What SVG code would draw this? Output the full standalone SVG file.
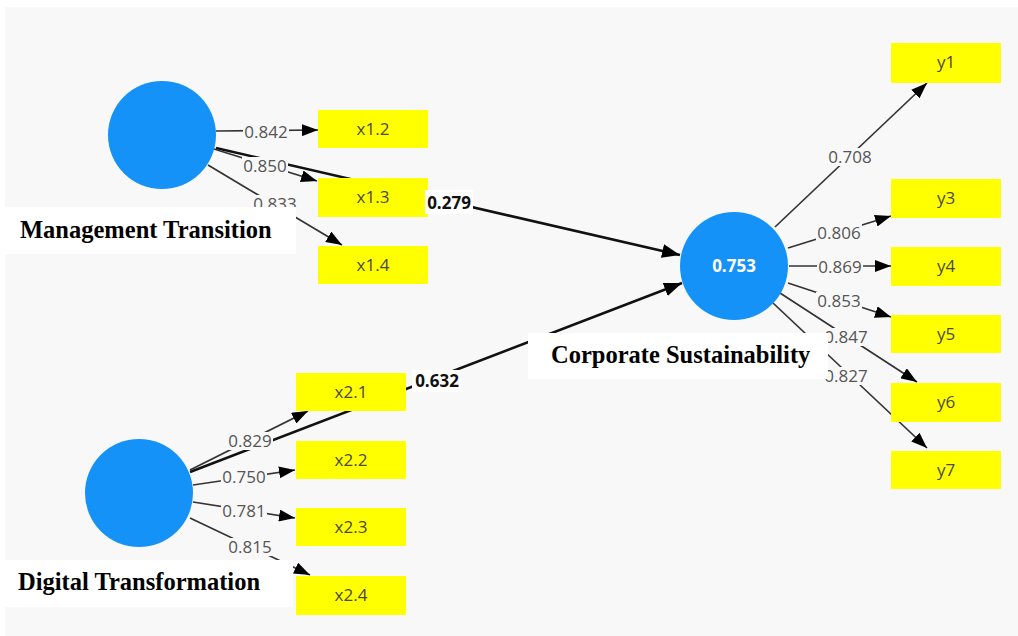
<svg xmlns="http://www.w3.org/2000/svg" width="1018" height="636" viewBox="0 0 1018 636">
  <style>
    .bg { fill: #f8f8f8; }
    .lv { fill: #1592f7; }
    .ind { fill: #ffff00; }
    .ind-t { font-family: "Open Sans", "Noto Sans", sans-serif; font-size: 17px; fill: #4a4a3a; text-anchor: middle; }
    .ml { stroke: #333; stroke-width: 1.7; fill: none; marker-end: url(#ah); }
    .sl { stroke: #111; stroke-width: 2.6; fill: none; marker-end: url(#ahb); }
    .mbg { fill: #f8f8f8; }
    .sbg { fill: #ffffff; }
    .mlab { font-family: "Open Sans", "Noto Sans", sans-serif; font-size: 17px; fill: #555; text-anchor: middle; }
    .slab { font-family: "Open Sans", "Noto Sans", sans-serif; font-size: 17px; font-weight: bold; fill: #111; text-anchor: middle; }
    .r2 { font-family: "Open Sans", "Noto Sans", sans-serif; font-size: 17px; font-weight: bold; fill: #ffffff; text-anchor: middle; }
    .namebox { fill: #ffffff; }
    .name { font-family: "Liberation Serif", "Times New Roman", serif; font-size: 24.5px; font-weight: bold; fill: #000; }
  </style>
  <defs>
    <marker id="ah" viewBox="0 0 16 12" refX="16" refY="6" markerWidth="16" markerHeight="12" markerUnits="userSpaceOnUse" orient="auto">
      <path d="M0,0 L16,6 L0,12 z" fill="#000"/>
    </marker>
    <marker id="ahb" viewBox="0 0 18 14" refX="18" refY="7" markerWidth="18" markerHeight="14" markerUnits="userSpaceOnUse" orient="auto">
      <path d="M0,0 L18,7 L0,14 z" fill="#000"/>
    </marker>
  </defs>

  <rect x="0" y="0" width="1018" height="636" fill="#ffffff"/>
  <rect class="bg" x="5" y="7" width="1013" height="629"/>

  <g id="connectors">
    <!-- structural paths -->
    <line class="sl" x1="216" y1="148" x2="680" y2="255"/>
    <line class="sl" x1="190" y1="472" x2="682" y2="283"/>

    <!-- Management Transition loadings -->
    <line class="ml" x1="216" y1="131" x2="318" y2="130"/>
    <line class="ml" x1="214" y1="149" x2="317" y2="181"/>
    <line class="ml" x1="208" y1="165" x2="342" y2="245"/>
    <rect class="mbg" x="243" y="123" width="46" height="18"/>
    <rect class="mbg" x="242" y="157" width="46" height="18"/>
    <rect class="mbg" x="252" y="195" width="46" height="18"/>
    <text class="mlab" x="266" y="138">0.842</text>
    <text class="mlab" x="265" y="172">0.850</text>
    <text class="mlab" x="275" y="210">0.833</text>

    <!-- Digital Transformation loadings -->
    <line class="ml" x1="190" y1="470" x2="308" y2="411"/>
    <line class="ml" x1="193" y1="485" x2="295" y2="470"/>
    <line class="ml" x1="193" y1="502" x2="295" y2="518"/>
    <line class="ml" x1="190" y1="518" x2="310" y2="575"/>
    <rect class="mbg" x="227" y="432" width="46" height="18"/>
    <rect class="mbg" x="221" y="468" width="46" height="18"/>
    <rect class="mbg" x="221" y="502" width="46" height="18"/>
    <rect class="mbg" x="227" y="538" width="46" height="18"/>
    <text class="mlab" x="250" y="447">0.829</text>
    <text class="mlab" x="244" y="483">0.750</text>
    <text class="mlab" x="244" y="517">0.781</text>
    <text class="mlab" x="250" y="553">0.815</text>

    <!-- Corporate Sustainability loadings -->
    <line class="ml" x1="775" y1="227" x2="927" y2="83"/>
    <line class="ml" x1="788" y1="248" x2="891" y2="216"/>
    <line class="ml" x1="789" y1="266" x2="891" y2="266"/>
    <line class="ml" x1="788" y1="283" x2="891" y2="317"/>
    <line class="ml" x1="780" y1="293" x2="917" y2="382"/>
    <line class="ml" x1="773" y1="303" x2="927" y2="448"/>
    <rect class="mbg" x="827" y="148" width="46" height="18"/>
    <rect class="mbg" x="816" y="224" width="46" height="18"/>
    <rect class="mbg" x="817" y="258" width="46" height="18"/>
    <rect class="mbg" x="816" y="292" width="46" height="18"/>
    <rect class="mbg" x="823" y="328" width="46" height="18"/>
    <rect class="mbg" x="823" y="367" width="46" height="18"/>
    <text class="mlab" x="850" y="163">0.708</text>
    <text class="mlab" x="839" y="239">0.806</text>
    <text class="mlab" x="840" y="273">0.869</text>
    <text class="mlab" x="839" y="307">0.853</text>
    <text class="mlab" x="846" y="343">0.847</text>
    <text class="mlab" x="846" y="382">0.827</text>
  </g>

  <!-- Management Transition -->
  <g id="management-transition">
    <circle class="lv" cx="162" cy="135" r="54"/>
  </g>
  <g id="x1-2"><rect class="ind" x="318" y="110" width="110" height="38"/><text class="ind-t" x="373" y="135">x1.2</text></g>
  <g id="x1-3"><rect class="ind" x="318" y="178" width="110" height="39"/><text class="ind-t" x="373" y="203">x1.3</text></g>
  <g id="x1-4"><rect class="ind" x="318" y="246" width="110" height="38"/><text class="ind-t" x="373" y="271">x1.4</text></g>

  <!-- Digital Transformation -->
  <g id="digital-transformation">
    <circle class="lv" cx="139" cy="493" r="54"/>
  </g>
  <g id="x2-1"><rect class="ind" x="296" y="373" width="110" height="38"/><text class="ind-t" x="351" y="398">x2.1</text></g>
  <g id="x2-2"><rect class="ind" x="296" y="441" width="110" height="38"/><text class="ind-t" x="351" y="466">x2.2</text></g>
  <g id="x2-3"><rect class="ind" x="296" y="508" width="110" height="38"/><text class="ind-t" x="351" y="533">x2.3</text></g>
  <g id="x2-4"><rect class="ind" x="296" y="576" width="110" height="39"/><text class="ind-t" x="351" y="601">x2.4</text></g>

  <!-- Corporate Sustainability -->
  <g id="corporate-sustainability">
    <circle class="lv" cx="734" cy="266" r="54"/>
    <text class="r2" x="734" y="272">0.753</text>
  </g>
  <g id="y1"><rect class="ind" x="891" y="43" width="110" height="40"/><text class="ind-t" x="946" y="68">y1</text></g>
  <g id="y3"><rect class="ind" x="891" y="179" width="110" height="39"/><text class="ind-t" x="946" y="204">y3</text></g>
  <g id="y4"><rect class="ind" x="891" y="247" width="110" height="39"/><text class="ind-t" x="946" y="272">y4</text></g>
  <g id="y5"><rect class="ind" x="891" y="315" width="110" height="38"/><text class="ind-t" x="946" y="340">y5</text></g>
  <g id="y6"><rect class="ind" x="891" y="383" width="110" height="39"/><text class="ind-t" x="946" y="408">y6</text></g>
  <g id="y7"><rect class="ind" x="891" y="451" width="110" height="38"/><text class="ind-t" x="946" y="476">y7</text></g>

  <!-- path coefficients -->
  <g id="path-labels">
    <rect class="sbg" x="425" y="190" width="48" height="24"/>
    <text class="slab" x="449" y="209">0.279</text>
    <rect class="sbg" x="412" y="370" width="49" height="22"/>
    <text class="slab" x="437" y="387">0.632</text>
  </g>

  <!-- construct names -->
  <g id="name-management-transition">
    <rect class="namebox" x="5" y="207" width="291" height="47"/>
    <text class="name" x="20" y="238">Management Transition</text>
  </g>
  <g id="name-digital-transformation">
    <rect class="namebox" x="5" y="560" width="288" height="47"/>
    <text class="name" x="18" y="590">Digital Transformation</text>
  </g>
  <g id="name-corporate-sustainability">
    <rect class="namebox" x="528" y="333" width="300" height="46"/>
    <text class="name" x="551" y="363">Corporate Sustainability</text>
  </g>
</svg>
